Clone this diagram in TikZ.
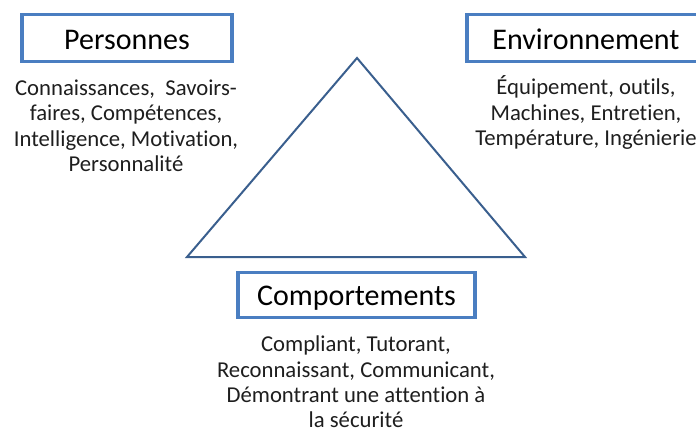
\documentclass[tikz,border=0pt]{standalone}
\usepackage{fontspec}
\setmainfont[Ligatures={NoCommon}]{Carlito}
\definecolor{boxblue}{HTML}{4A7EC1}
\definecolor{triblue}{HTML}{3A5F8E}
\definecolor{bodytext}{HTML}{1E1E1E}
\begin{document}
\begin{tikzpicture}[x=1pt,y=-1pt,
  titlebox/.style={draw=boxblue, line width=3.2pt, fill=white, inner sep=0pt,
    text height=22pt, text depth=0pt,
    font=\fontsize{30}{31}\selectfont, text=black},
  bodytxt/.style={anchor=north, inner sep=0pt, align=center,
    font=\fontsize{22.7}{25.4}\selectfont, text=bodytext},
  triline/.style={draw=triblue, line width=2pt, line join=miter}]
\useasboundingbox (0,0) rectangle (696,433);
\clip (0,0) rectangle (696,433);
% triangle
\coordinate (apex) at (357,58);
\coordinate (bl) at (187,257);
\coordinate (br) at (525,257);
\draw[triline] (apex) -- (bl) -- (br) -- cycle;
% boxes
\node[titlebox, minimum width=210pt, minimum height=47pt] (pers) at (127,38.3) {Personnes};
\node[titlebox, minimum width=238pt, minimum height=47pt] (env) at (586,38.3) {Environnement};
\node[titlebox, minimum width=237pt, minimum height=45pt] (comp) at (356.5,294.8) {Comportements};
% body texts
\node[bodytxt] (perstxt) at (126,75) {\rule{0pt}{20pt}Connaissances,\ \ Savoirs-\\faires, Compétences,\\Intelligence, Motivation,\\Personnalité};
\node[bodytxt] (envtxt) at (586,74.5) {\rule{0pt}{20pt}Équipement, outils,\\Machines, Entretien,\\Température, Ingénierie};
\node[bodytxt] (comptxt) at (356,331.5) {\rule{0pt}{20pt}Compliant, Tutorant,\\Reconnaissant, Communicant,\\Démontrant une attention à\\la sécurité};
\end{tikzpicture}
\end{document}
